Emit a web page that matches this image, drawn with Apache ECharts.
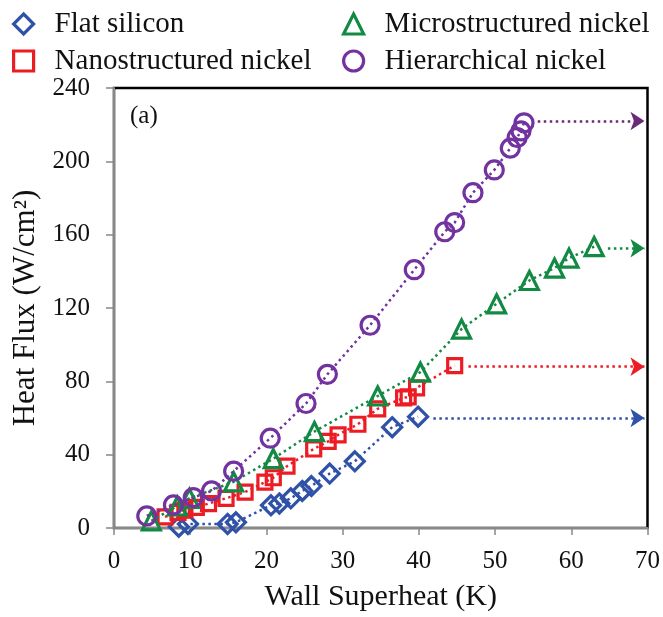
<!DOCTYPE html>
<html>
<head>
<meta charset="utf-8">
<script src="https://cdn.jsdelivr.net/npm/echarts@6/dist/echarts.min.js"></script>
<style>html,body{margin:0;padding:0;background:#fff}#c{width:663px;height:617px}</style>
</head>
<body>
<div id="c"></div>
<script>
// ---- data ----
const seriesNames = ['Flat silicon', 'Nanostructured nickel', 'Microstructured nickel', 'Hierarchical nickel'];
const xTicks = [0, 10, 20, 30, 40, 50, 60, 70];
const yTicks = [0, 40, 80, 120, 160, 200, 240];

const flatX = [8.5, 9.7, 14.9, 16.0, 20.6, 21.7, 23.2, 24.7, 25.9, 28.3, 31.6, 36.5, 39.9];
const flatY = [0.7, 2.2, 2.2, 3.1, 12.4, 13.4, 16.2, 20.2, 22.9, 29.7, 36.4, 55.0, 60.7];

const nanoX = [6.7, 8.4, 9.3, 10.8, 12.4, 14.7, 17.2, 19.8, 20.9, 22.7, 26.2, 28.1, 29.4, 32.0, 34.6, 38.0, 38.6, 39.7, 44.7];
const nanoY = [6.1, 8.5, 9.7, 11.2, 13.3, 16.2, 19.6, 25.0, 27.4, 33.7, 43.1, 47.2, 50.8, 56.6, 65.0, 71.0, 71.5, 76.4, 88.6];

const microX = [4.9, 8.3, 9.9, 15.7, 20.9, 26.3, 34.6, 40.2, 45.6, 50.2, 54.5, 57.8, 59.7, 63.0];
const microY = [3.9, 12.0, 16.2, 25.2, 37.8, 52.6, 72.0, 85.0, 108.5, 122.3, 135.0, 141.8, 147.2, 153.5];

const hierX = [4.3, 7.8, 10.4, 12.8, 15.7, 20.5, 25.2, 28.0, 33.6, 39.4, 43.4, 44.7, 47.1, 49.9, 52.0, 52.9, 53.4, 53.8];
const hierY = [6.6, 12.6, 16.6, 20.2, 31.0, 49.0, 67.9, 83.8, 110.6, 140.9, 161.6, 166.6, 182.9, 195.3, 207.2, 213.0, 216.6, 221.0];

// arrows: [startX, endX, y]
const flatArrow = [41.9, 69.6, 60];
const nanoArrow = [46.5, 69.6, 88];
const microArrow = [64.8, 69.6, 152.6];
const hierArrow = [55.6, 69.6, 222];

// ---- styles ----
const FONT = 'Liberation Serif';
const colors = ['#2F52A8', '#EC1C24', '#138A44', '#7232A0'];
const arrowColors = ['#2F52A8', '#EC1C24', '#138A44', '#6A2A78'];
const symbols = ['diamond', 'rect', 'triangle', 'circle'];
const symbolSizes = [19, 14, 18, 18];

const xs = [flatX, nanoX, microX, hierX];
const ys = [flatY, nanoY, microY, hierY];
const arrows = [flatArrow, nanoArrow, microArrow, hierArrow];

function zip(a, b) { return a.map((v, i) => [v, b[i]]); }

const series = seriesNames.map((name, i) => ({
  name: name,
  type: 'line',
  color: colors[i],
  data: zip(xs[i], ys[i]),
  symbol: symbols[i],
  symbolSize: symbolSizes[i],
  itemStyle: { color: 'rgba(0,0,0,0)', borderColor: colors[i], borderWidth: 3.2 },
  lineStyle: { color: colors[i], width: 2.5, type: [2.5, 3.5] },
  emphasis: { disabled: true },
  z: 2 + i,
  markLine: {
    silent: true,
    symbol: ['none', 'arrow'],
    symbolSize: 14,
    label: { show: false },
    emphasis: { disabled: true },
    lineStyle: { color: arrowColors[i], width: 2.5, type: [2.5, 3.5] },
    data: [[
      { coord: [arrows[i][0], arrows[i][2]] },
      { coord: [arrows[i][1], arrows[i][2]] }
    ]]
  }
}));

function legendItem(i) {
  return {
    name: seriesNames[i],
    icon: symbols[i],
    itemStyle: { color: 'rgba(0,0,0,0)', borderColor: colors[i], borderWidth: 3.2 }
  };
}
const legendText = { fontFamily: FONT, fontSize: 29, color: '#111', lineHeight: 30, padding: [0, 0, 0, 16] };

const option = {
  animation: false,
  backgroundColor: '#fff',
  title: {
    text: '(a)', left: 125, top: 99,
    textStyle: { fontFamily: FONT, fontSize: 25, fontWeight: 'normal', color: '#111' }
  },
  legend: [
    {
      orient: 'vertical', left: 7, top: 4, itemGap: 7,
      itemWidth: 20, itemHeight: 20,
      data: [legendItem(0), legendItem(1)],
      textStyle: legendText
    },
    {
      orient: 'vertical', left: 337, top: 4, itemGap: 7,
      itemWidth: 20, itemHeight: 20,
      data: [legendItem(2), legendItem(3)],
      textStyle: legendText
    }
  ],
  grid: {
    left: 114, right: 12, top: 88, bottom: 82,
    show: true, borderColor: '#000', borderWidth: 2.5, backgroundColor: 'rgba(0,0,0,0)'
  },
  xAxis: {
    type: 'value', min: xTicks[0], max: xTicks[xTicks.length - 1], interval: 10,
    name: 'Wall Superheat (K)', nameLocation: 'middle', nameGap: 54,
    nameTextStyle: { fontFamily: FONT, fontSize: 30, color: '#111' },
    axisLine: { show: true, lineStyle: { color: '#888', width: 2 } },
    axisTick: { show: true, inside: false, length: 7, lineStyle: { color: '#888', width: 1.5 } },
    axisLabel: { fontFamily: FONT, fontSize: 25, color: '#111', margin: 21 },
    splitLine: { show: false }
  },
  yAxis: {
    type: 'value', min: yTicks[0], max: yTicks[yTicks.length - 1], interval: 40,
    name: 'Heat Flux (W/cm²)', nameLocation: 'middle', nameGap: 52, nameRotate: 90,
    nameTextStyle: { fontFamily: FONT, fontSize: 31, color: '#111' },
    axisLine: { show: true, lineStyle: { color: '#888', width: 2 } },
    axisTick: { show: true, inside: false, length: 8, lineStyle: { color: '#888', width: 1.5 } },
    axisLabel: { fontFamily: FONT, fontSize: 25, color: '#111', margin: 24 },
    splitLine: { show: false }
  },
  series: series
};

const chart = echarts.init(document.getElementById('c'), null, { renderer: 'canvas' });
chart.setOption(option);
</script>
</body>
</html>
